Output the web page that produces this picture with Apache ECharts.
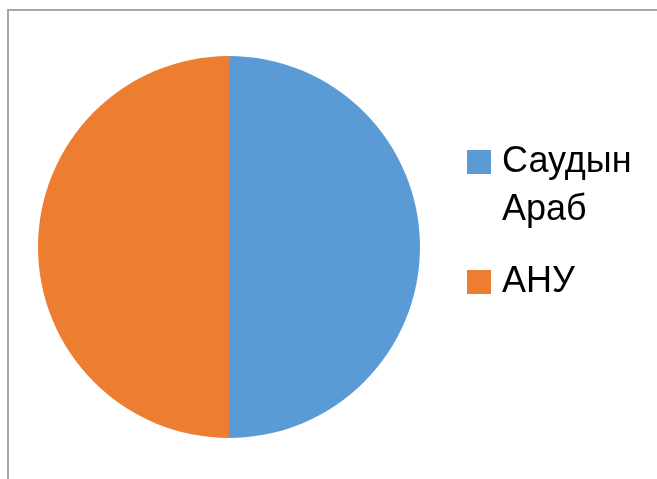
<!DOCTYPE html>
<html>
<head>
<meta charset="utf-8">
<script src="https://cdn.jsdelivr.net/npm/echarts@6/dist/echarts.min.js"></script>
<style>
html,body{margin:0;padding:0;background:#fff;}
#frame{position:absolute;left:7px;top:9px;right:-5px;bottom:-5px;border-left:2px solid #a6a6a6;border-top:2px solid #a6a6a6;}
#chart{position:absolute;left:0;top:0;width:657px;height:479px;}
</style>
</head>
<body>
<div id="frame"></div>
<div id="chart"></div>
<script>
const categories = ['Саудын Араб', 'АНУ'];
const legendLabels = [' \nСаудын\nАраб', 'АНУ'];
const values = [50, 50];
const colors = ['#5b9bd5', '#ed7d31'];

const chart = echarts.init(document.getElementById('chart'), null, {renderer: 'canvas'});
chart.setOption({
  backgroundColor: 'transparent',
  animation: false,
  legend: {
    orient: 'vertical',
    left: 467,
    top: 90,
    padding: 0,
    itemWidth: 24,
    itemHeight: 24,
    itemGap: 24,
    icon: 'rect',
    data: categories,
    formatter: function (name) { return legendLabels[categories.indexOf(name)]; },
    textStyle: {fontFamily: 'Liberation Sans', fontSize: 36, lineHeight: 48, color: '#000', padding: [0, 0, 0, 6]}
  },
  series: [{
    type: 'pie',
    center: [229, 247],
    radius: 191,
    startAngle: 90,
    clockwise: true,
    label: {show: false},
    labelLine: {show: false},
    emphasis: {disabled: true},
    itemStyle: {borderWidth: 0},
    data: categories.map((c, i) => ({name: c, value: values[i], itemStyle: {color: colors[i]}}))
  }]
});
</script>
</body>
</html>
